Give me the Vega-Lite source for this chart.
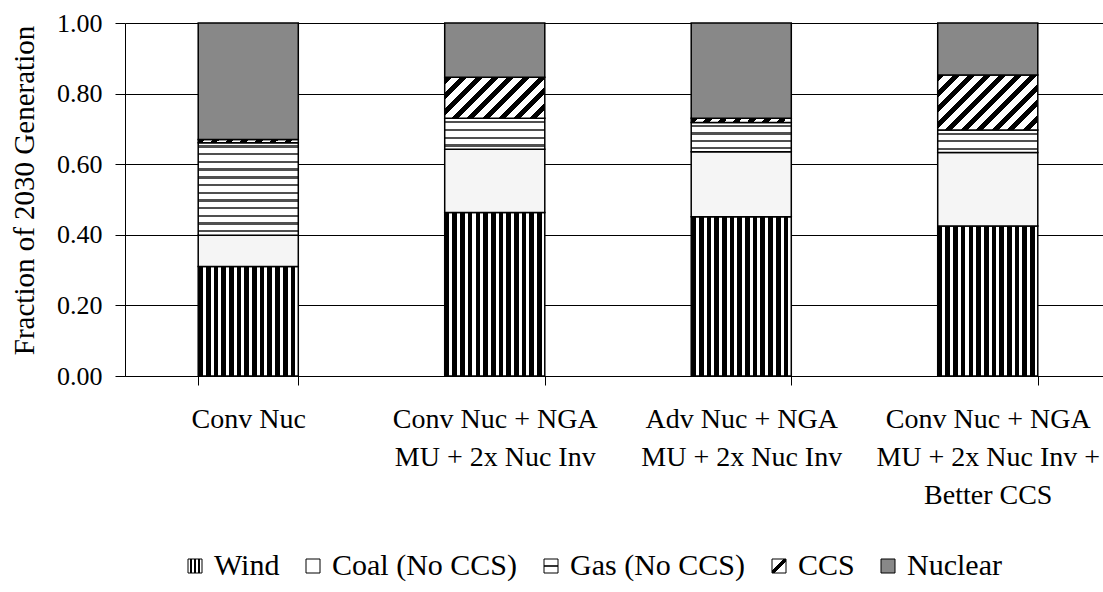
{
  "$schema": "https://vega.github.io/schema/vega-lite/v6.json",
  "autosize": "none",
  "width": 978,
  "height": 353,
  "padding": {"left": 125, "top": 23, "right": 0, "bottom": 216},
  "background": "white",
  "config": {
    "view": {"stroke": null},
    "font": "Liberation Serif",
    "axis": {"labelFont": "Liberation Serif", "titleFont": "Liberation Serif", "labelColor": "black", "titleColor": "black", "domainColor": "black", "tickColor": "black", "gridColor": "black"},
    "legend": {"labelFont": "Liberation Serif", "labelColor": "black"}
  },
  "data": {
    "values": [
      {"scenario": "Conv Nuc", "source": "Wind", "ord": 1, "value": 0.310},
      {"scenario": "Conv Nuc", "source": "Coal (No CCS)", "ord": 2, "value": 0.089},
      {"scenario": "Conv Nuc", "source": "Gas (No CCS)", "ord": 3, "value": 0.262},
      {"scenario": "Conv Nuc", "source": "CCS", "ord": 4, "value": 0.009},
      {"scenario": "Conv Nuc", "source": "Nuclear", "ord": 5, "value": 0.330},
      {"scenario": "Conv Nuc + NGA MU + 2x Nuc Inv", "source": "Wind", "ord": 1, "value": 0.463},
      {"scenario": "Conv Nuc + NGA MU + 2x Nuc Inv", "source": "Coal (No CCS)", "ord": 2, "value": 0.179},
      {"scenario": "Conv Nuc + NGA MU + 2x Nuc Inv", "source": "Gas (No CCS)", "ord": 3, "value": 0.088},
      {"scenario": "Conv Nuc + NGA MU + 2x Nuc Inv", "source": "CCS", "ord": 4, "value": 0.116},
      {"scenario": "Conv Nuc + NGA MU + 2x Nuc Inv", "source": "Nuclear", "ord": 5, "value": 0.154},
      {"scenario": "Adv Nuc + NGA MU + 2x Nuc Inv", "source": "Wind", "ord": 1, "value": 0.451},
      {"scenario": "Adv Nuc + NGA MU + 2x Nuc Inv", "source": "Coal (No CCS)", "ord": 2, "value": 0.184},
      {"scenario": "Adv Nuc + NGA MU + 2x Nuc Inv", "source": "Gas (No CCS)", "ord": 3, "value": 0.083},
      {"scenario": "Adv Nuc + NGA MU + 2x Nuc Inv", "source": "CCS", "ord": 4, "value": 0.012},
      {"scenario": "Adv Nuc + NGA MU + 2x Nuc Inv", "source": "Nuclear", "ord": 5, "value": 0.270},
      {"scenario": "Conv Nuc + NGA MU + 2x Nuc Inv + Better CCS", "source": "Wind", "ord": 1, "value": 0.425},
      {"scenario": "Conv Nuc + NGA MU + 2x Nuc Inv + Better CCS", "source": "Coal (No CCS)", "ord": 2, "value": 0.208},
      {"scenario": "Conv Nuc + NGA MU + 2x Nuc Inv + Better CCS", "source": "Gas (No CCS)", "ord": 3, "value": 0.064},
      {"scenario": "Conv Nuc + NGA MU + 2x Nuc Inv + Better CCS", "source": "CCS", "ord": 4, "value": 0.156},
      {"scenario": "Conv Nuc + NGA MU + 2x Nuc Inv + Better CCS", "source": "Nuclear", "ord": 5, "value": 0.147}
    ]
  },
  "mark": {"type": "bar", "stroke": "black", "strokeWidth": 1.5},
  "encoding": {
    "x": {
      "field": "scenario", "type": "nominal",
      "sort": ["Conv Nuc", "Conv Nuc + NGA MU + 2x Nuc Inv", "Adv Nuc + NGA MU + 2x Nuc Inv", "Conv Nuc + NGA MU + 2x Nuc Inv + Better CCS"],
      "scale": {"range": [0, 986], "paddingInner": 0.594, "paddingOuter": 0.297},
      "axis": {
        "title": null, "labelAngle": 0, "labelFontSize": 28, "labelLineHeight": 38, "labelPadding": 20,
        "tickSize": 9, "tickBand": "extent", "domainWidth": 1, "labelLimit": 400,
        "labelExpr": "datum.label == 'Conv Nuc' ? 'Conv Nuc' : datum.label == 'Conv Nuc + NGA MU + 2x Nuc Inv' ? ['Conv Nuc + NGA', 'MU + 2x Nuc Inv'] : datum.label == 'Adv Nuc + NGA MU + 2x Nuc Inv' ? ['Adv Nuc + NGA', 'MU + 2x Nuc Inv'] : datum.label == 'Conv Nuc + NGA MU + 2x Nuc Inv + Better CCS' ? ['Conv Nuc + NGA', 'MU + 2x Nuc Inv +', 'Better CCS'] : ''"
      }
    },
    "y": {
      "field": "value", "type": "quantitative", "stack": "zero",
      "scale": {"domain": [0, 1], "nice": false},
      "axis": {
        "title": "Fraction of 2030 Generation", "titleFontSize": 29, "titleFontWeight": "normal", "titlePadding": 17, "titleY": 167,
        "values": [0, 0.2, 0.4, 0.6, 0.8, 1.0], "format": ".2f",
        "labelFontSize": 26, "labelPadding": 13, "tickSize": 10, "grid": true, "gridWidth": 1, "domainWidth": 1
      }
    },
    "order": {"field": "ord", "type": "quantitative"},
    "fill": {
      "condition": [
        {"test": "datum.source == 'Wind'", "value": {"gradient": "linear", "x1": 0, "y1": 0, "x2": 1, "y2": 0, "stops": [{"offset":0,"color":"#000"},{"offset":0.0462,"color":"#000"},{"offset":0.0462,"color":"#fff"},{"offset":0.0769,"color":"#fff"},{"offset":0.0769,"color":"#000"},{"offset":0.1231,"color":"#000"},{"offset":0.1231,"color":"#fff"},{"offset":0.1538,"color":"#fff"},{"offset":0.1538,"color":"#000"},{"offset":0.2,"color":"#000"},{"offset":0.2,"color":"#fff"},{"offset":0.2308,"color":"#fff"},{"offset":0.2308,"color":"#000"},{"offset":0.2769,"color":"#000"},{"offset":0.2769,"color":"#fff"},{"offset":0.3077,"color":"#fff"},{"offset":0.3077,"color":"#000"},{"offset":0.3538,"color":"#000"},{"offset":0.3538,"color":"#fff"},{"offset":0.3846,"color":"#fff"},{"offset":0.3846,"color":"#000"},{"offset":0.4308,"color":"#000"},{"offset":0.4308,"color":"#fff"},{"offset":0.4615,"color":"#fff"},{"offset":0.4615,"color":"#000"},{"offset":0.5077,"color":"#000"},{"offset":0.5077,"color":"#fff"},{"offset":0.5385,"color":"#fff"},{"offset":0.5385,"color":"#000"},{"offset":0.5846,"color":"#000"},{"offset":0.5846,"color":"#fff"},{"offset":0.6154,"color":"#fff"},{"offset":0.6154,"color":"#000"},{"offset":0.6615,"color":"#000"},{"offset":0.6615,"color":"#fff"},{"offset":0.6923,"color":"#fff"},{"offset":0.6923,"color":"#000"},{"offset":0.7385,"color":"#000"},{"offset":0.7385,"color":"#fff"},{"offset":0.7692,"color":"#fff"},{"offset":0.7692,"color":"#000"},{"offset":0.8154,"color":"#000"},{"offset":0.8154,"color":"#fff"},{"offset":0.8462,"color":"#fff"},{"offset":0.8462,"color":"#000"},{"offset":0.8923,"color":"#000"},{"offset":0.8923,"color":"#fff"},{"offset":0.9231,"color":"#fff"},{"offset":0.9231,"color":"#000"},{"offset":0.9692,"color":"#000"},{"offset":0.9692,"color":"#fff"},{"offset":1,"color":"#fff"}]}},
        {"test": "datum.source == 'Coal (No CCS)'", "value": "#f5f5f5"},
        {"test": "datum.source == 'Gas (No CCS)' && datum.scenario == 'Conv Nuc'", "value": {"gradient": "linear", "x1": 0, "y1": 0, "x2": 0, "y2": 1, "stops": [{"offset":0,"color":"#fff"},{"offset":0.0292,"color":"#fff"},{"offset":0.0292,"color":"#505050"},{"offset":0.0542,"color":"#505050"},{"offset":0.0542,"color":"#fff"},{"offset":0.1125,"color":"#fff"},{"offset":0.1125,"color":"#505050"},{"offset":0.1375,"color":"#505050"},{"offset":0.1375,"color":"#fff"},{"offset":0.1958,"color":"#fff"},{"offset":0.1958,"color":"#505050"},{"offset":0.2208,"color":"#505050"},{"offset":0.2208,"color":"#fff"},{"offset":0.2792,"color":"#fff"},{"offset":0.2792,"color":"#505050"},{"offset":0.3042,"color":"#505050"},{"offset":0.3042,"color":"#fff"},{"offset":0.3625,"color":"#fff"},{"offset":0.3625,"color":"#505050"},{"offset":0.3875,"color":"#505050"},{"offset":0.3875,"color":"#fff"},{"offset":0.4458,"color":"#fff"},{"offset":0.4458,"color":"#505050"},{"offset":0.4708,"color":"#505050"},{"offset":0.4708,"color":"#fff"},{"offset":0.5292,"color":"#fff"},{"offset":0.5292,"color":"#505050"},{"offset":0.5542,"color":"#505050"},{"offset":0.5542,"color":"#fff"},{"offset":0.6125,"color":"#fff"},{"offset":0.6125,"color":"#505050"},{"offset":0.6375,"color":"#505050"},{"offset":0.6375,"color":"#fff"},{"offset":0.6958,"color":"#fff"},{"offset":0.6958,"color":"#505050"},{"offset":0.7208,"color":"#505050"},{"offset":0.7208,"color":"#fff"},{"offset":0.7792,"color":"#fff"},{"offset":0.7792,"color":"#505050"},{"offset":0.8042,"color":"#505050"},{"offset":0.8042,"color":"#fff"},{"offset":0.8625,"color":"#fff"},{"offset":0.8625,"color":"#505050"},{"offset":0.8875,"color":"#505050"},{"offset":0.8875,"color":"#fff"},{"offset":0.9458,"color":"#fff"},{"offset":0.9458,"color":"#505050"},{"offset":0.9708,"color":"#505050"},{"offset":0.9708,"color":"#fff"},{"offset":1,"color":"#fff"}]}},
        {"test": "datum.source == 'Gas (No CCS)' && datum.scenario == 'Conv Nuc + NGA MU + 2x Nuc Inv + Better CCS'", "value": {"gradient": "linear", "x1": 0, "y1": 0, "x2": 0, "y2": 1, "stops": [{"offset":0,"color":"#fff"},{"offset":0.1167,"color":"#fff"},{"offset":0.1167,"color":"#505050"},{"offset":0.2167,"color":"#505050"},{"offset":0.2167,"color":"#fff"},{"offset":0.45,"color":"#fff"},{"offset":0.45,"color":"#505050"},{"offset":0.55,"color":"#505050"},{"offset":0.55,"color":"#fff"},{"offset":0.7833,"color":"#fff"},{"offset":0.7833,"color":"#505050"},{"offset":0.8833,"color":"#505050"},{"offset":0.8833,"color":"#fff"},{"offset":1,"color":"#fff"}]}},
        {"test": "datum.source == 'Gas (No CCS)'", "value": {"gradient": "linear", "x1": 0, "y1": 0, "x2": 0, "y2": 1, "stops": [{"offset":0,"color":"#fff"},{"offset":0.0875,"color":"#fff"},{"offset":0.0875,"color":"#505050"},{"offset":0.1625,"color":"#505050"},{"offset":0.1625,"color":"#fff"},{"offset":0.3375,"color":"#fff"},{"offset":0.3375,"color":"#505050"},{"offset":0.4125,"color":"#505050"},{"offset":0.4125,"color":"#fff"},{"offset":0.5875,"color":"#fff"},{"offset":0.5875,"color":"#505050"},{"offset":0.6625,"color":"#505050"},{"offset":0.6625,"color":"#fff"},{"offset":0.8375,"color":"#fff"},{"offset":0.8375,"color":"#505050"},{"offset":0.9125,"color":"#505050"},{"offset":0.9125,"color":"#fff"},{"offset":1,"color":"#fff"}]}},
        {"test": "datum.source == 'CCS' && datum.scenario == 'Conv Nuc + NGA MU + 2x Nuc Inv'", "value": {"gradient": "linear", "x1": 0, "y1": 0, "x2": 1.207, "y2": 0.495, "stops": [{"offset":0,"color":"#000"},{"offset":0.05,"color":"#000"},{"offset":0.05,"color":"#fff"},{"offset":0.1111,"color":"#fff"},{"offset":0.1111,"color":"#000"},{"offset":0.1611,"color":"#000"},{"offset":0.1611,"color":"#fff"},{"offset":0.2222,"color":"#fff"},{"offset":0.2222,"color":"#000"},{"offset":0.2722,"color":"#000"},{"offset":0.2722,"color":"#fff"},{"offset":0.3333,"color":"#fff"},{"offset":0.3333,"color":"#000"},{"offset":0.3833,"color":"#000"},{"offset":0.3833,"color":"#fff"},{"offset":0.4444,"color":"#fff"},{"offset":0.4444,"color":"#000"},{"offset":0.4944,"color":"#000"},{"offset":0.4944,"color":"#fff"},{"offset":0.5556,"color":"#fff"},{"offset":0.5556,"color":"#000"},{"offset":0.6056,"color":"#000"},{"offset":0.6056,"color":"#fff"},{"offset":0.6667,"color":"#fff"},{"offset":0.6667,"color":"#000"},{"offset":0.7167,"color":"#000"},{"offset":0.7167,"color":"#fff"},{"offset":0.7778,"color":"#fff"},{"offset":0.7778,"color":"#000"},{"offset":0.8278,"color":"#000"},{"offset":0.8278,"color":"#fff"},{"offset":0.8889,"color":"#fff"},{"offset":0.8889,"color":"#000"},{"offset":0.9389,"color":"#000"},{"offset":0.9389,"color":"#fff"},{"offset":1,"color":"#fff"}]}},
        {"test": "datum.source == 'CCS' && datum.scenario == 'Conv Nuc + NGA MU + 2x Nuc Inv + Better CCS'", "value": {"gradient": "linear", "x1": 0, "y1": 0, "x2": 1.19, "y2": 0.655, "stops": [{"offset":0,"color":"#000"},{"offset":0.045,"color":"#000"},{"offset":0.045,"color":"#fff"},{"offset":0.1,"color":"#fff"},{"offset":0.1,"color":"#000"},{"offset":0.145,"color":"#000"},{"offset":0.145,"color":"#fff"},{"offset":0.2,"color":"#fff"},{"offset":0.2,"color":"#000"},{"offset":0.245,"color":"#000"},{"offset":0.245,"color":"#fff"},{"offset":0.3,"color":"#fff"},{"offset":0.3,"color":"#000"},{"offset":0.345,"color":"#000"},{"offset":0.345,"color":"#fff"},{"offset":0.4,"color":"#fff"},{"offset":0.4,"color":"#000"},{"offset":0.445,"color":"#000"},{"offset":0.445,"color":"#fff"},{"offset":0.5,"color":"#fff"},{"offset":0.5,"color":"#000"},{"offset":0.545,"color":"#000"},{"offset":0.545,"color":"#fff"},{"offset":0.6,"color":"#fff"},{"offset":0.6,"color":"#000"},{"offset":0.645,"color":"#000"},{"offset":0.645,"color":"#fff"},{"offset":0.7,"color":"#fff"},{"offset":0.7,"color":"#000"},{"offset":0.745,"color":"#000"},{"offset":0.745,"color":"#fff"},{"offset":0.8,"color":"#fff"},{"offset":0.8,"color":"#000"},{"offset":0.845,"color":"#000"},{"offset":0.845,"color":"#fff"},{"offset":0.9,"color":"#fff"},{"offset":0.9,"color":"#000"},{"offset":0.945,"color":"#000"},{"offset":0.945,"color":"#fff"},{"offset":1,"color":"#fff"}]}},
        {"test": "datum.source == 'CCS'", "value": {"gradient": "linear", "x1": 0, "y1": 0, "x2": 1.031, "y2": 0.035, "stops": [{"offset":0,"color":"#000"},{"offset":0.0643,"color":"#000"},{"offset":0.0643,"color":"#fff"},{"offset":0.1429,"color":"#fff"},{"offset":0.1429,"color":"#000"},{"offset":0.2071,"color":"#000"},{"offset":0.2071,"color":"#fff"},{"offset":0.2857,"color":"#fff"},{"offset":0.2857,"color":"#000"},{"offset":0.35,"color":"#000"},{"offset":0.35,"color":"#fff"},{"offset":0.4286,"color":"#fff"},{"offset":0.4286,"color":"#000"},{"offset":0.4929,"color":"#000"},{"offset":0.4929,"color":"#fff"},{"offset":0.5714,"color":"#fff"},{"offset":0.5714,"color":"#000"},{"offset":0.6357,"color":"#000"},{"offset":0.6357,"color":"#fff"},{"offset":0.7143,"color":"#fff"},{"offset":0.7143,"color":"#000"},{"offset":0.7786,"color":"#000"},{"offset":0.7786,"color":"#fff"},{"offset":0.8571,"color":"#fff"},{"offset":0.8571,"color":"#000"},{"offset":0.9214,"color":"#000"},{"offset":0.9214,"color":"#fff"},{"offset":1,"color":"#fff"}]}}
      ],
      "field": "source", "type": "nominal",
      "scale": {
        "domain": ["Wind", "Coal (No CCS)", "Gas (No CCS)", "CCS", "Nuclear"],
        "range": [
          {"expr": "{gradient: 'linear', x1: 0, y1: 0, x2: 1, y2: 0, stops: [{offset: 0, color: '#fff'}, {offset: 0.14, color: '#fff'}, {offset: 0.14, color: '#000'}, {offset: 0.3, color: '#000'}, {offset: 0.3, color: '#fff'}, {offset: 0.42, color: '#fff'}, {offset: 0.42, color: '#000'}, {offset: 0.58, color: '#000'}, {offset: 0.58, color: '#fff'}, {offset: 0.7, color: '#fff'}, {offset: 0.7, color: '#000'}, {offset: 0.86, color: '#000'}, {offset: 0.86, color: '#fff'}, {offset: 1, color: '#fff'}]}"},
          "#ffffff",
          {"expr": "{gradient: 'linear', x1: 0, y1: 0, x2: 0, y2: 1, stops: [{offset: 0, color: '#fff'}, {offset: 0.42, color: '#fff'}, {offset: 0.42, color: '#333'}, {offset: 0.58, color: '#333'}, {offset: 0.58, color: '#fff'}, {offset: 1, color: '#fff'}]}"},
          {"expr": "{gradient: 'linear', x1: 0, y1: 0, x2: 1, y2: 1, stops: [{offset: 0, color: '#fff'}, {offset: 0.4, color: '#fff'}, {offset: 0.4, color: '#000'}, {offset: 0.6, color: '#000'}, {offset: 0.6, color: '#fff'}, {offset: 1, color: '#fff'}]}"},
          "#888888"
        ]
      },
      "legend": {
        "title": null, "orient": "none", "direction": "horizontal", "legendX": 55, "legendY": 528,
        "labelFontSize": 30, "labelOffset": 4, "columnPadding": 18,
        "symbolType": "square", "symbolSize": 196, "symbolStrokeColor": "black", "symbolStrokeWidth": 1, "symbolOpacity": 1,
        "labelLimit": 400
      }
    }
  }
}
